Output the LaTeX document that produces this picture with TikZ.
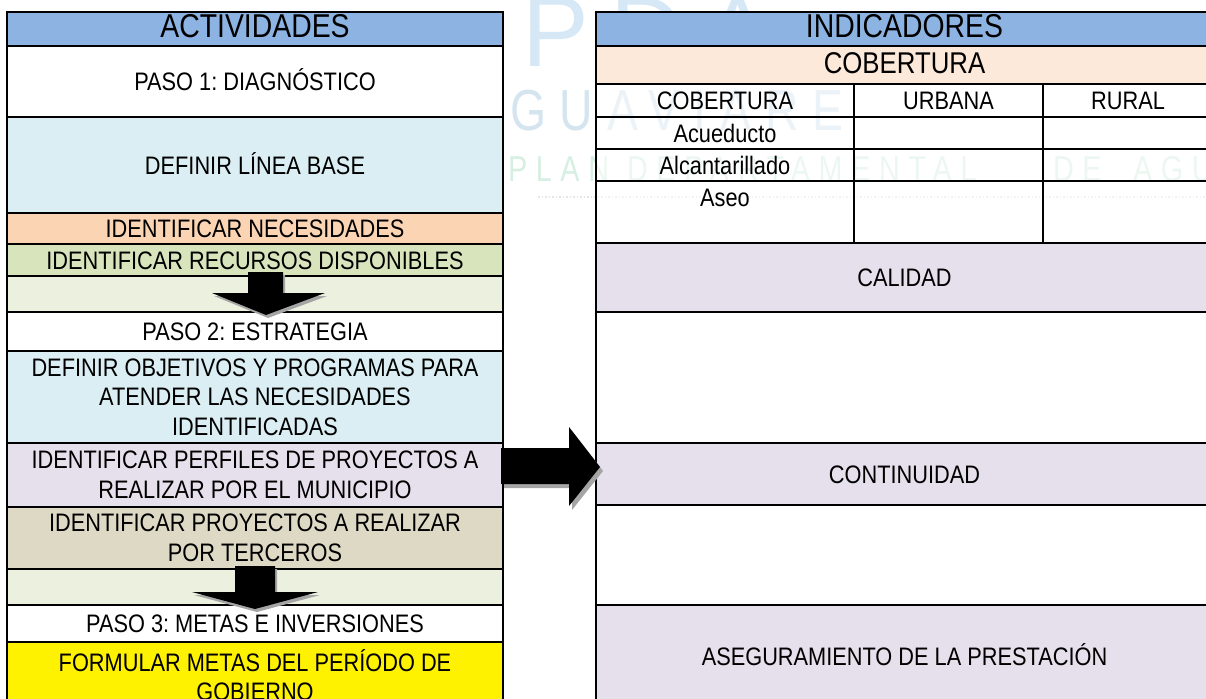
\documentclass[tikz,border=0pt]{standalone}
\usepackage{fontspec}
\setmainfont{Liberation Sans}[FakeStretch=0.86]
\newfontfamily\wmfont{Liberation Sans}[FakeStretch=0.8,LetterSpace=24]
\newfontfamily\logofont{Liberation Sans}[LetterSpace=22]
\newcommand{\fsbody}{\fontsize{25.3}{29.5}\selectfont}
\newcommand{\fshead}{\fontsize{33}{36}\selectfont}
\newcommand{\fscob}{\fontsize{30}{33}\selectfont}
\definecolor{hdrblue}{RGB}{141,179,226}
\definecolor{ltblue}{RGB}{218,238,243}
\definecolor{peach}{RGB}{251,212,180}
\definecolor{olivelt}{RGB}{215,228,188}
\definecolor{paleolive}{RGB}{235,241,222}
\definecolor{lavender}{RGB}{229,224,236}
\definecolor{tanlt}{RGB}{221,217,196}
\definecolor{cobpeach}{RGB}{253,233,217}
\definecolor{wmblue}{RGB}{212,229,240}
\definecolor{wmgreen}{RGB}{214,239,226}
\definecolor{logoblue}{RGB}{214,232,246}
\definecolor{shadowgray}{RGB}{165,165,165}
\tikzset{
  cell/.style={draw=black, line width=2.4pt, inner sep=0pt, outer sep=0pt,
    anchor=north west, align=center, font=\fsbody},
  one/.style={text height=18pt, text depth=0pt},
  veil/.style={fill=white, fill opacity=0.55, text opacity=1},
  wm/.style={inner sep=0pt, outer sep=0pt, anchor=base west},
  lw/.style={minimum width=496pt},
  rw/.style={minimum width=617pt},
}
\frenchspacing
\begin{document}
\begin{tikzpicture}[x=1pt,y=-1pt]
\useasboundingbox (0,0) rectangle (1206,698);
\clip (0,0) rectangle (1206,698);
% watermark
\node[wm, text=logoblue, font=\logofont\fontsize{100}{100}\selectfont] (wmlogo) at (522,67) {PDA};
\node[wm, text=wmblue, font=\wmfont\fontsize{58}{60}\selectfont] (wmguav) at (510,130) {GUAVIARE};
\node[wm, text=wmgreen, font=\wmfont\fontsize{36}{38}\selectfont] (wmplan) at (508,181) {PLAN};
\node[wm, text=wmgreen, font=\wmfont\fontsize{36}{38}\selectfont] (wmdep) at (627,181) {DEPARTAMENTAL};
\node[wm, text=wmgreen, font=\wmfont\fontsize{36}{38}\selectfont] (wmde) at (1053,181) {DE};
\node[wm, text=wmgreen, font=\wmfont\fontsize{36}{38}\selectfont] (wmagua) at (1133,181) {AGUA};
\coordinate (dots1) at (538,197);
\coordinate (dots2) at (1206,197);
\draw[gray!20, dotted, line width=1.5pt] (dots1) -- (dots2);
% left table
\node[cell, lw, one, fill=hdrblue, font=\fshead, minimum height=34pt] (l0) at (7,12) {ACTIVIDADES};
\node[cell, lw, one, minimum height=71pt] (l1) at (7,46) {PASO 1: DIAGNÓSTICO};
\node[cell, lw, one, fill=ltblue, minimum height=96pt] (l2) at (7,117) {DEFINIR LÍNEA BASE};
\node[cell, lw, one, fill=peach, minimum height=31pt] (l3) at (7,213) {IDENTIFICAR NECESIDADES};
\node[cell, lw, one, fill=olivelt, minimum height=32pt] (l4) at (7,244) {IDENTIFICAR RECURSOS DISPONIBLES};
\node[cell, lw, fill=paleolive, minimum height=36pt] (l5) at (7,276) {};
\node[cell, lw, one, minimum height=39pt] (l6) at (7,312) {PASO 2: ESTRATEGIA};
\node[cell, lw, fill=ltblue, minimum height=92pt] (l7) at (7,351) {DEFINIR OBJETIVOS Y PROGRAMAS PARA\\ATENDER LAS NECESIDADES\\IDENTIFICADAS};
\node[cell, lw, fill=lavender, minimum height=64pt] (l8) at (7,443) {IDENTIFICAR PERFILES DE PROYECTOS A\\REALIZAR POR EL MUNICIPIO};
\node[cell, lw, fill=tanlt, minimum height=62pt] (l9) at (7,507) {IDENTIFICAR PROYECTOS A REALIZAR\\POR TERCEROS};
\node[cell, lw, fill=paleolive, minimum height=36pt] (l10) at (7,569) {};
\node[cell, lw, one, minimum height=37pt] (l11) at (7,605) {PASO 3: METAS E INVERSIONES};
\node[cell, lw, fill=yellow, minimum height=66pt] (l12) at (7,642) {FORMULAR METAS DEL PERÍODO DE\\GOBIERNO};
% right table
\node[cell, rw, one, fill=hdrblue, font=\fshead, minimum height=34pt] (r0) at (596,12) {INDICADORES};
\node[cell, rw, one, fill=cobpeach, font=\fscob, minimum height=38pt] (r1) at (596,46) {COBERTURA};
\node[cell, veil, one, minimum width=258pt, minimum height=33pt] (r2a) at (596,84) {COBERTURA};
\node[cell, veil, one, minimum width=189pt, minimum height=33pt] (r2b) at (854,84) {URBANA};
\node[cell, veil, one, minimum width=170pt, minimum height=33pt] (r2c) at (1043,84) {RURAL};
\node[cell, veil, one, minimum width=258pt, minimum height=32pt] (r3a) at (596,117) {Acueducto};
\node[cell, veil, minimum width=189pt, minimum height=32pt] (r3b) at (854,117) {};
\node[cell, veil, minimum width=170pt, minimum height=32pt] (r3c) at (1043,117) {};
\node[cell, veil, one, minimum width=258pt, minimum height=32pt] (r4a) at (596,149) {Alcantarillado};
\node[cell, veil, minimum width=189pt, minimum height=32pt] (r4b) at (854,149) {};
\node[cell, veil, minimum width=170pt, minimum height=32pt] (r4c) at (1043,149) {};
\node[cell, veil, minimum width=258pt, minimum height=62pt] (r5a) at (596,181) {};
\node[cell, veil, minimum width=189pt, minimum height=62pt] (r5b) at (854,181) {};
\node[cell, veil, minimum width=170pt, minimum height=62pt] (r5c) at (1043,181) {};
\node[inner sep=0pt, anchor=base, font=\fsbody] (aseo) at (r5a.center |- 0,206) {Aseo};
\node[cell, rw, one, fill=lavender, minimum height=69pt] (r6) at (596,243) {CALIDAD};
\node[cell, rw, minimum height=131pt] (r7) at (596,312) {};
\node[cell, rw, one, fill=lavender, minimum height=62pt] (r8) at (596,443) {CONTINUIDAD};
\node[cell, rw, minimum height=100pt] (r9) at (596,505) {};
\node[cell, rw, one, fill=lavender, minimum height=102pt] (r10) at (596,605) {ASEGURAMIENTO DE LA PRESTACIÓN};
% block arrows
\newcommand{\rarrowpath}{(501,448) -- (569,448) -- (569,427) -- (600,467) -- (569,506) -- (569,484) -- (501,484) -- cycle}
\newcommand{\darrowa}{(248,272) -- (283,272) -- (283,293) -- (325,293) -- (266,315) -- (212,293) -- (248,293) -- cycle}
\newcommand{\darrowb}{(235,566) -- (275,566) -- (275,592) -- (318,592) -- (255,609) -- (192,592) -- (235,592) -- cycle}
\fill[shadowgray, shift={(3,4)}] \rarrowpath;
\fill[black] \rarrowpath;
\fill[shadowgray, shift={(2,3)}] \darrowa;
\fill[black] \darrowa;
\fill[shadowgray, shift={(2,3)}] \darrowb;
\fill[black] \darrowb;
\end{tikzpicture}
\end{document}
